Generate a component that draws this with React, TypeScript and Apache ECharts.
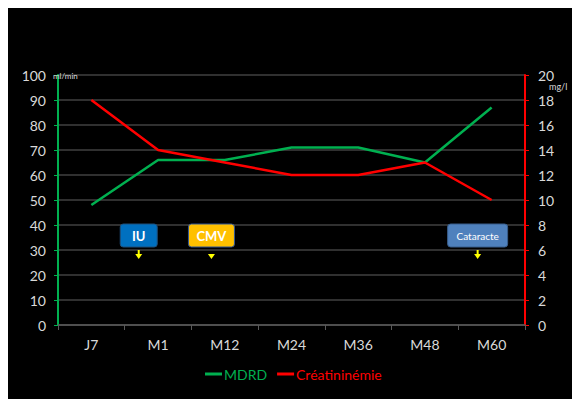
import React, { useEffect, useRef } from "react";
import * as echarts from "echarts";

const categories = ["J7", "M1", "M12", "M24", "M36", "M48", "M60"];
const mdrd = [48, 66, 66, 71, 71, 65, 87];
const creatininemie = [18, 14, 13, 12, 12, 13, 10];

// Event call-outs: position along the category axis (index units) and height on the ml/min scale
const events = [
  { label: "IU", pos: 0.71, value: 35.8, width: 37, fill: "#0070c0", border: "#1f4e79", size: 13, bold: true, arrow: 9 },
  { label: "CMV", pos: 1.8, value: 35.8, width: 46, fill: "#ffc000", border: "#2f5597", size: 13, bold: true, arrow: 5 },
  { label: "Cataracte", pos: 5.79, value: 35.8, width: 60, fill: "#4f81bd", border: "#385d8a", size: 10, bold: false, arrow: 9 },
];

const GREEN = "#00b050";
const RED = "#ff0000";
const LABEL = "#d9d9d9";
const GRID = "#404040";
const FONT = "Lato, 'Open Sans', sans-serif";

export default function App() {
  const ref = useRef<HTMLDivElement>(null);

  useEffect(() => {
    if (!ref.current) return;
    const chart = echarts.init(ref.current, null, { renderer: "svg" });
    chart.setOption({
      animation: false,
      backgroundColor: "#000000",
      textStyle: { fontFamily: FONT },
      grid: { left: 50, right: 55, top: 67, height: 250 },
      legend: {
        left: 192,
        top: 354,
        itemWidth: 17,
        itemHeight: 3,
        itemGap: 10,
        icon: "rect",
        textStyle: { fontFamily: FONT, fontSize: 14, padding: [0, 0, 0, -3] },
        data: [
          { name: "MDRD", textStyle: { color: GREEN } },
          { name: "Créatininémie", textStyle: { color: RED } },
        ],
      },
      xAxis: {
        type: "category",
        data: categories,
        boundaryGap: true,
        axisLine: { lineStyle: { color: "#595959", width: 1.5 } },
        axisTick: { show: true, length: 5, lineStyle: { color: "#595959" } },
        axisLabel: { color: LABEL, fontSize: 14, margin: 12, fontFamily: FONT },
      },
      yAxis: [
        {
          type: "value",
          min: 0,
          max: 100,
          interval: 10,
          axisLine: { show: true, lineStyle: { color: GREEN, width: 2 } },
          axisTick: { show: true, length: 4, lineStyle: { color: GREEN } },
          axisLabel: { color: LABEL, fontSize: 14, margin: 12, fontFamily: FONT },
          splitLine: { lineStyle: { color: GRID, width: 1.5 } },
        },
        {
          type: "value",
          min: 0,
          max: 20,
          interval: 2,
          position: "right",
          axisLine: { show: true, lineStyle: { color: RED, width: 2 } },
          axisTick: { show: true, length: 4, lineStyle: { color: RED } },
          axisLabel: { color: LABEL, fontSize: 14, margin: 13, fontFamily: FONT },
          splitLine: { show: false },
        },
      ],
      series: [
        {
          name: "MDRD",
          type: "line",
          data: mdrd,
          yAxisIndex: 0,
          symbol: "none",
          itemStyle: { color: GREEN },
          lineStyle: { color: GREEN, width: 2.5 },
        },
        {
          name: "Créatininémie",
          type: "line",
          data: creatininemie,
          yAxisIndex: 1,
          symbol: "none",
          itemStyle: { color: RED },
          lineStyle: { color: RED, width: 2.5 },
        },
      ],
    });

    // Place the call-outs and unit captions from the axes' own scales
    const x0 = chart.convertToPixel({ xAxisIndex: 0 }, 0) as number;
    const x1 = chart.convertToPixel({ xAxisIndex: 0 }, 1) as number;
    const band = x1 - x0;
    const yTop = chart.convertToPixel({ yAxisIndex: 0 }, 100) as number;
    const leftX = x0 - band / 2;
    const rightX = x0 + band * (categories.length - 0.5);

    const elements: any[] = [
      {
        type: "text",
        x: leftX - 5,
        y: yTop + 1,
        style: { text: "ml/min", fill: LABEL, fontSize: 8, fontFamily: FONT, verticalAlign: "middle" },
        z: 10,
      },
      {
        type: "text",
        x: rightX + 24,
        y: yTop + 11,
        style: { text: "mg/l", fill: LABEL, fontSize: 9, fontFamily: FONT, verticalAlign: "middle" },
        z: 10,
      },
    ];

    events.forEach((ev) => {
      const cx = x0 + ev.pos * band;
      const cy = chart.convertToPixel({ yAxisIndex: 0 }, ev.value) as number;
      const h = 23;
      elements.push({
        type: "rect",
        shape: { x: cx - ev.width / 2, y: cy - h / 2, width: ev.width, height: h, r: 3 },
        style: { fill: ev.fill, stroke: ev.border, lineWidth: 1 },
        z: 10,
      });
      elements.push({
        type: "text",
        x: cx,
        y: cy,
        style: {
          text: ev.label,
          fill: "#ffffff",
          fontSize: ev.size,
          fontWeight: ev.bold ? "bold" : "normal",
          fontFamily: FONT,
          align: "center",
          verticalAlign: "middle",
        },
        z: 11,
      });
      const tip = cy + h / 2 + 12;
      const start = tip - ev.arrow;
      if (ev.arrow > 5) {
        elements.push({
          type: "line",
          shape: { x1: cx, y1: start, x2: cx, y2: tip - 3 },
          style: { stroke: "#ffff00", lineWidth: 2 },
          z: 10,
        });
      }
      elements.push({
        type: "polygon",
        shape: { points: [[cx - 3.5, tip - 5], [cx + 3.5, tip - 5], [cx, tip]] },
        style: { fill: "#ffff00" },
        z: 10,
      });
    });

    chart.setOption({ graphic: { elements } });

    return () => chart.dispose();
  }, []);

  return <div ref={ref} style={{ width: 572, height: 391 }} />;
}
